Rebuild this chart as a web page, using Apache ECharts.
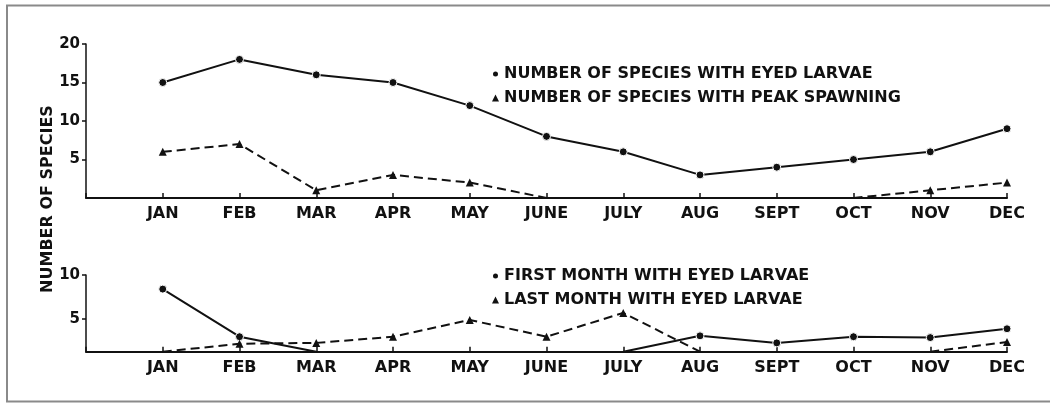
<!DOCTYPE html>
<html>
<head>
<meta charset="utf-8">
<title>Eyed larvae by month</title>
<script src="https://cdn.jsdelivr.net/npm/echarts@6/dist/echarts.min.js"></script>
<style>
  html, body { margin: 0; padding: 0; background: #fff; }
  #chart { width: 1050px; height: 406px; }
</style>
</head>
<body>
<div id="chart"></div>
<script>
// months along both x axes
var MONTHS = ['JAN', 'FEB', 'MAR', 'APR', 'MAY', 'JUNE', 'JULY', 'AUG', 'SEPT', 'OCT', 'NOV', 'DEC'];

// top panel
var NAME_EYED = 'NUMBER OF SPECIES WITH EYED LARVAE';
var NAME_PEAK = 'NUMBER OF SPECIES WITH PEAK SPAWNING';
var eyedLarvae = [15, 18, 16, 15, 12, 8, 6, 3, 4, 5, 6, 9];
var peakSpawning = [6, 7, 1, 3, 2, 0, null, null, null, 0, 1, 2];
var TOP_MIN = 0;
var TOP_MAX = 20;
var TOP_TICKS = [5, 10, 15, 20];

// bottom panel (drawn axis starts a bit above zero)
var NAME_FIRST = 'FIRST MONTH WITH EYED LARVAE';
var NAME_LAST = 'LAST MONTH WITH EYED LARVAE';
var BOTTOM_MIN = 1.3;
var BOTTOM_MAX = 10;
var BOTTOM_TICKS = [5, 10];
var firstMonth = [8.4, 3.0, 1.3, null, null, null, 1.3, 3.1, 2.3, 3.0, 2.9, 3.9];
var lastMonth = [1.3, 2.2, 2.3, 3.0, 4.9, 3.0, 5.7, 1.3, null, null, 1.3, 2.4];

var FONT = '"DejaVu Sans", "Liberation Sans", sans-serif';
var INK = '#111';

// points sitting on the baseline get no marker
function toData(values, floor) {
  return values.map(function (v, i) {
    if (v === null) return [i + 1, null];
    if (v === floor) return { value: [i + 1, v], symbol: 'none' };
    return [i + 1, v];
  });
}

function xAxisFor(gridIndex) {
  return {
    type: 'value', gridIndex: gridIndex, min: 0, max: 12, interval: 1,
    axisLine: { lineStyle: { color: INK, width: 2 } },
    axisTick: { inside: true, length: 5, lineStyle: { color: INK, width: 1.5 } },
    axisLabel: {
      margin: 8, color: INK, fontFamily: FONT, fontWeight: 'bold', fontSize: 16,
      formatter: function (v) { return v === 0 ? '' : MONTHS[v - 1]; }
    },
    splitLine: { show: false }
  };
}

function yAxisFor(gridIndex, min, max, ticks) {
  return {
    type: 'value', gridIndex: gridIndex, min: min, max: max,
    axisLine: { show: true, lineStyle: { color: INK, width: 1.5 } },
    axisTick: { show: true, length: 4, customValues: ticks, lineStyle: { color: INK, width: 1.5 } },
    axisLabel: { margin: 6, color: INK, fontFamily: FONT, fontWeight: 'bold', fontSize: 15, customValues: ticks },
    splitLine: { show: false }
  };
}

function lineSeries(name, values, floor, axisIndex, dashed) {
  return {
    name: name, type: 'line', xAxisIndex: axisIndex, yAxisIndex: axisIndex,
    data: toData(values, floor),
    clip: false,
    symbol: dashed ? 'triangle' : 'circle',
    symbolSize: 8,
    itemStyle: { color: INK, borderColor: dashed ? INK : '#fff', borderWidth: dashed ? 0 : 1 },
    lineStyle: { color: INK, width: 2, type: dashed ? [9, 5] : 'solid' }
  };
}

function legendFor(top, names) {
  return {
    orient: 'vertical', left: 486, top: top, itemGap: 8,
    itemWidth: 7, itemHeight: 7, selectedMode: false,
    textStyle: { color: INK, fontFamily: FONT, fontWeight: 'bold', fontSize: 16, lineHeight: 16 },
    data: [{ name: names[0], icon: 'circle' }, { name: names[1], icon: 'triangle' }]
  };
}

var chart = echarts.init(document.getElementById('chart'));

var option = {
  animation: false,
  backgroundColor: '#fff',
  grid: [
    { left: 86, right: 43, top: 44, height: 154, outerBoundsMode: 'none' },
    { left: 86, right: 43, top: 275, height: 76.7, outerBoundsMode: 'none' }
  ],
  legend: [
    legendFor(61, [NAME_EYED, NAME_PEAK]),
    legendFor(263, [NAME_FIRST, NAME_LAST])
  ],
  xAxis: [xAxisFor(0), xAxisFor(1)],
  yAxis: [
    yAxisFor(0, TOP_MIN, TOP_MAX, TOP_TICKS),
    yAxisFor(1, BOTTOM_MIN, BOTTOM_MAX, BOTTOM_TICKS)
  ],
  graphic: [
    {
      type: 'rect', silent: true,
      shape: { x: 7, y: 5.5, width: 1060, height: 396 },
      style: { fill: null, stroke: '#8a8a8a', lineWidth: 2 }
    },
    {
      type: 'text', silent: true, x: 48, y: 199, rotation: Math.PI / 2,
      style: {
        text: 'NUMBER OF SPECIES', fill: INK,
        font: 'bold 16px ' + FONT, textAlign: 'center', textVerticalAlign: 'middle'
      }
    }
  ],
  series: [
    lineSeries(NAME_EYED, eyedLarvae, TOP_MIN, 0, false),
    lineSeries(NAME_PEAK, peakSpawning, TOP_MIN, 0, true),
    lineSeries(NAME_FIRST, firstMonth, BOTTOM_MIN, 1, false),
    lineSeries(NAME_LAST, lastMonth, BOTTOM_MIN, 1, true)
  ]
};

chart.setOption(option);
</script>
</body>
</html>
